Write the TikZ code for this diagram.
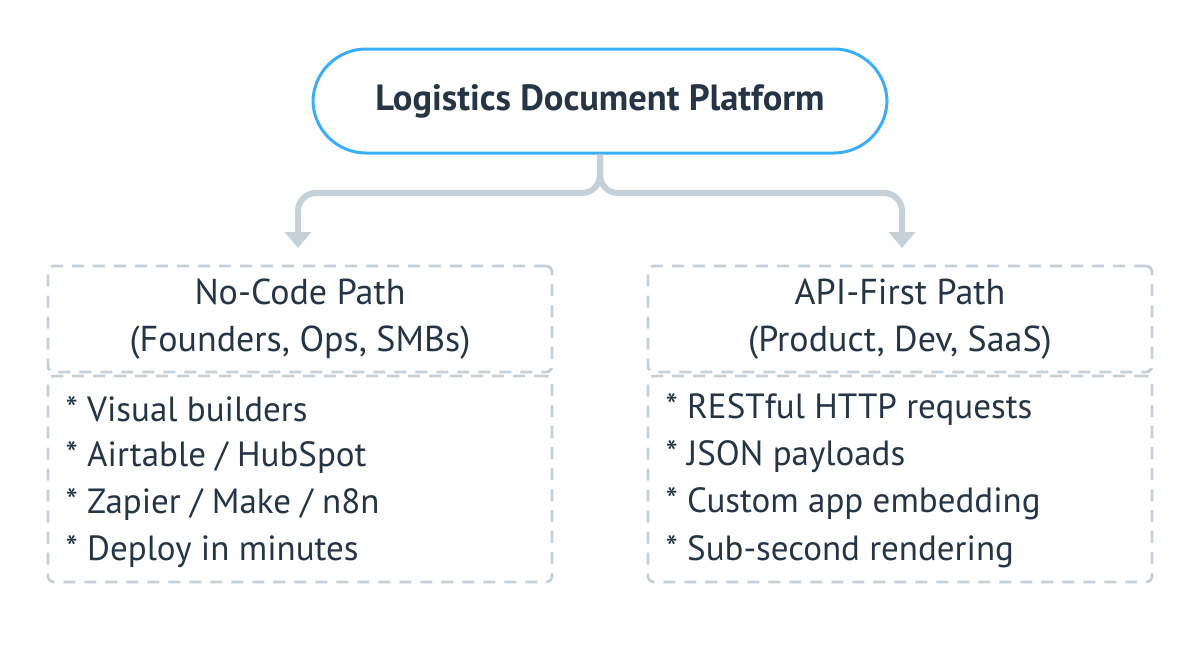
\documentclass[tikz,border=0pt]{standalone}
\usepackage{fontspec}
\setmainfont{PT Sans}
\usetikzlibrary{arrows.meta}
\definecolor{ink}{HTML}{263545}
\definecolor{pblue}{HTML}{3AAEF6}
\definecolor{lgray}{HTML}{C5D0D9}
\tikzset{
  topbox/.style={draw=pblue, line width=3pt, rounded corners=53pt, fill=white,
    minimum width=574pt, minimum height=104pt, text=ink,
    font=\bfseries\fontsize{36.5}{40}\selectfont},
  headbox/.style={draw=lgray, line width=2.8pt, dash pattern=on 12pt off 9pt, rounded corners=6pt,
    minimum width=504pt, minimum height=106pt, align=center, text=ink,
    font=\fontsize{36}{46}\selectfont},
  bodybox/.style={draw=lgray, line width=2.8pt, dash pattern=on 12pt off 9pt, rounded corners=6pt,
    minimum width=504pt, minimum height=206pt, inner sep=0pt},
  itemtext/.style={text=ink, anchor=west, font=\fontsize{35}{40}\selectfont},
  conn/.style={draw=lgray, line width=6pt, rounded corners=18pt,
    -{Triangle[width=26pt,length=16pt]}}
}
\begin{document}
\begin{tikzpicture}[x=1pt,y=-1pt]
\useasboundingbox[fill=white] (0,0) rectangle (1200,656);
\node[topbox] (top) at (600,101) {\raisebox{-2pt}{Logistics Document Platform}};
\node[headbox] (nch) at (300,319) {\raisebox{-7.5pt}{\begin{tabular}{@{}c@{}}No-Code Path\\[1pt](Founders, Ops, SMBs)\end{tabular}}};
\node[bodybox] (ncb) at (300,479) {};
\node[headbox] (aph) at (900,319) {\raisebox{-7.5pt}{\begin{tabular}{@{}c@{}}API-First Path\\[1pt](Product, Dev, SaaS)\end{tabular}}};
\node[bodybox] (apb) at (900,479) {};
\node[itemtext] (n1) at (62,409) {* Visual builders};
\node[itemtext] (n2) at (62,457) {* Airtable / HubSpot};
\node[itemtext] (n3) at (62,504) {* Zapier / Make / n8n};
\node[itemtext] (n4) at (62,552) {* Deploy in minutes};
\node[itemtext] (a1) at (662,409) {* RESTful HTTP requests};
\node[itemtext] (a2) at (662,457) {* JSON payloads};
\node[itemtext] (a3) at (662,504) {* Custom app embedding};
\node[itemtext] (a4) at (662,552) {* Sub-second rendering};
\coordinate (la) at (298,248);
\coordinate (ra) at (902,248);
\draw[conn] (top.south) -- (600,193) -- (298,193) -- (la);
\draw[conn] (top.south) -- (600,193) -- (902,193) -- (ra);
\end{tikzpicture}
\end{document}
